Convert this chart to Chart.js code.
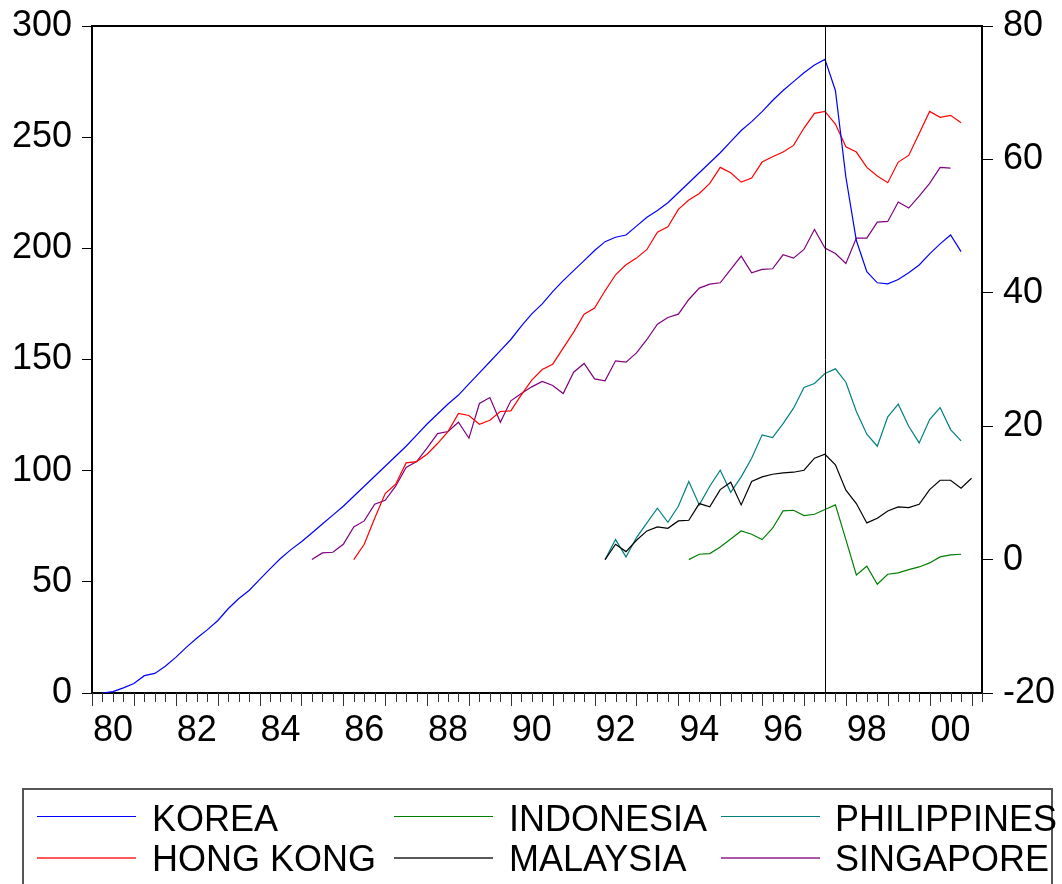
<!DOCTYPE html>
<html>
<head>
<meta charset="utf-8">
<script src="https://cdn.jsdelivr.net/npm/chart.js@4.4.1/dist/chart.umd.min.js"></script>
<style>
html,body{margin:0;padding:0;background:#fff;overflow:hidden}
#wrap{position:relative;width:1062px;height:884px;overflow:hidden}
#c{position:absolute;left:0;top:0}
#legendBox{position:absolute;left:22px;top:788px;width:1031px;height:120px;border:2px solid #555;box-sizing:border-box}
.lline{position:absolute}
.ltext{position:absolute;font-family:"Liberation Sans",Arial,sans-serif;font-size:36px;line-height:36px;color:#000;white-space:nowrap}
</style>
</head>
<body>
<div id="wrap">
<canvas id="c" width="1062" height="884"></canvas>
<div id="legendBox"></div>
</div>
<script>
// ---- categories (quarterly, 1980Q1 .. 2001Q2) ----
const firstYear = 1980;
const lastQuarter = '2001Q2';
const quarters = [];
for (let y = firstYear; ; y++) {
  let done = false;
  for (let q = 1; q <= 4; q++) {
    const lab = y + 'Q' + q;
    quarters.push(lab);
    if (lab === lastQuarter) { done = true; break; }
  }
  if (done) break;
}
const yearTickLabels = ['80','82','84','86','88','90','92','94','96','98','00'];
const eventQuarter = '1997Q3';

// ---- series ----
const koreaStart = '1980Q2';
const korea = [0, 0.6, 2.3, 4.3, 7.8, 8.8, 12.0, 16.0, 20.5, 24.6,
  28.4, 32.5, 37.9, 42.4, 46.1, 51.0, 55.8, 60.5, 64.5, 68.0,
  72, 76, 80, 84, 88.5, 93, 97.5, 102, 106.5, 111,
  116, 121, 125.5, 130, 134, 139, 144, 149, 154, 159,
  165, 170.5, 175, 180.5, 185.5, 190, 194.5, 199, 203, 205,
  206, 210, 214, 217, 220.5, 225, 229.5, 234, 238.5, 243,
  248, 253, 257, 261.5, 266.5, 271, 275, 279, 282.5, 285,
  271, 232, 203.5, 189.5, 184.5, 184, 186, 189, 192.5, 197.5,
  202, 206, 198.5];

const hongKongStart = '1986Q2';
const hongKong = [0, 2.3, 6.2, 9.9, 11.3, 14.5, 14.7, 15.8, 17.4, 19.2,
  21.9, 21.6, 20.3, 20.9, 22.2, 22.3, 24.7, 26.9, 28.5, 29.3,
  31.7, 34.1, 36.8, 37.7, 40.3, 42.7, 44.2, 45.2, 46.5, 49.1,
  49.9, 52.5, 53.9, 54.9, 56.4, 58.8, 58.0, 56.6, 57.2, 59.6,
  60.4, 61.1, 62.1, 64.7, 66.9, 67.2, 65.3, 61.9, 61.1, 58.8,
  57.5, 56.5, 59.6, 60.6, 63.9, 67.2, 66.3, 66.6, 65.5];

const indonesiaStart = '1994Q2';
const indonesia = [0, 0.8, 0.9, 1.9, 3.1, 4.3, 3.8, 3.0, 4.7, 7.3,
  7.4, 6.6, 6.8, 7.5, 8.2, 3.0, -2.3, -1.0, -3.7, -2.2,
  -2.0, -1.5, -1.1, -0.5, 0.4, 0.7, 0.8];

const malaysiaStart = '1992Q2';
const malaysia = [0, 2.3, 1.2, 2.9, 4.3, 4.9, 4.7, 5.8, 5.9, 8.4,
  7.9, 10.5, 11.6, 8.2, 11.7, 12.4, 12.8, 13.0, 13.1, 13.4,
  15.2, 15.8, 14.2, 10.4, 8.4, 5.5, 6.2, 7.3, 7.9, 7.8,
  8.3, 10.5, 11.9, 11.9, 10.7, 12.2];

const philippinesStart = '1992Q2';
const philippines = [0, 3.0, 0.4, 3.3, 5.5, 7.7, 5.6, 8.0, 11.7, 8.2,
  11.0, 13.4, 10.1, 12.4, 15.2, 18.7, 18.3, 20.4, 22.7, 25.8,
  26.4, 27.9, 28.6, 26.6, 22.2, 18.8, 17.0, 21.4, 23.3, 20.0,
  17.5, 21.0, 22.8, 19.5, 17.8];

const singaporeStart = '1985Q2';
const singapore = [0, 1.0, 1.1, 2.3, 4.9, 5.8, 8.3, 8.9, 11.0, 13.8,
  14.7, 16.7, 18.9, 19.2, 20.6, 18.2, 23.4, 24.3, 20.6, 23.8,
  24.9, 25.9, 26.7, 26.1, 24.9, 28.1, 29.4, 27.1, 26.8, 29.8,
  29.6, 31.0, 33.0, 35.3, 36.3, 36.8, 39.0, 40.7, 41.3, 41.5,
  43.5, 45.5, 43.0, 43.5, 43.6, 45.7, 45.2, 46.5, 49.5, 46.7,
  45.9, 44.4, 48.2, 48.2, 50.6, 50.7, 53.6, 52.7, 54.5, 56.4,
  58.8, 58.7];

// ---- build library data ----
function toPoints(start, values) {
  const s = quarters.indexOf(start);
  return values.map((v, k) => ({ x: quarters[s + k], y: v }));
}
const FONT = '"Liberation Sans", Arial, sans-serif';
const seriesDefs = [
  { label: 'KOREA',       start: koreaStart,       values: korea,       color: '#0000FF', axis: 'y'  },
  { label: 'HONG KONG',   start: hongKongStart,    values: hongKong,    color: '#FF0000', axis: 'y1' },
  { label: 'INDONESIA',   start: indonesiaStart,   values: indonesia,   color: '#008000', axis: 'y1' },
  { label: 'MALAYSIA',    start: malaysiaStart,    values: malaysia,    color: '#000000', axis: 'y1' },
  { label: 'PHILIPPINES', start: philippinesStart, values: philippines, color: '#008080', axis: 'y1' },
  { label: 'SINGAPORE',   start: singaporeStart,   values: singapore,   color: '#800080', axis: 'y1' }
];

const datasets = seriesDefs.map(s => ({
  label: s.label,
  data: toPoints(s.start, s.values),
  borderColor: s.color,
  backgroundColor: s.color,
  borderWidth: 1.2,
  pointRadius: 0,
  tension: 0,
  fill: false,
  yAxisID: s.axis
}));

const framePlugin = {
  id: 'frame',
  afterDraw(chart) {
    const { ctx, chartArea: a, scales: { x } } = chart;
    ctx.save();
    // top frame
    ctx.strokeStyle = '#000';
    ctx.lineWidth = 2;
    ctx.beginPath();
    ctx.moveTo(a.left - 1, a.top);
    ctx.lineTo(a.right + 1, a.top);
    ctx.stroke();
    // quarterly (minor) and yearly (major) ticks
    ctx.lineWidth = 1;
    ctx.strokeStyle = '#333';
    ctx.beginPath();
    quarters.forEach((q, i) => {
      const px = Math.round(x.getPixelForValue(i)) + 0.5;
      const len = (i % 4 === 0) ? 13 : 9;
      ctx.moveTo(px, a.bottom);
      ctx.lineTo(px, a.bottom + len);
    });
    ctx.stroke();
    // event line
    const ex = Math.round(x.getPixelForValue(quarters.indexOf(eventQuarter))) + 0.5;
    ctx.strokeStyle = '#000';
    ctx.lineWidth = 1;
    ctx.beginPath();
    ctx.moveTo(ex, a.top);
    ctx.lineTo(ex, a.bottom);
    ctx.stroke();
    ctx.restore();
  }
};

const tickFont = { family: FONT, size: 36 };

new Chart(document.getElementById('c'), {
  type: 'line',
  data: { labels: quarters, datasets },
  options: {
    responsive: false,
    animation: false,
    events: [],
    layout: { padding: { top: 26, left: 0, right: 0, bottom: 121 } },
    plugins: { legend: { display: false }, tooltip: { enabled: false } },
    scales: {
      x: {
        type: 'category',
        offset: false,
        grid: { display: false },
        border: { display: true, color: '#000', width: 2 },
        ticks: {
          autoSkip: false, maxRotation: 0, minRotation: 0, padding: 8,
          color: '#000', font: tickFont,
          callback: (v, i) => (i % 8 === 2) ? yearTickLabels[(i - 2) / 8] : ''
        },
        afterFit: s => { s.height = 70; s.paddingLeft = 0; s.paddingRight = 0; }
      },
      y: {
        position: 'left', min: 0, max: 300,
        ticks: { stepSize: 50, padding: 10, color: '#000', font: tickFont },
        grid: { drawOnChartArea: false, tickLength: 10, color: '#000' },
        border: { display: true, color: '#000', width: 2 },
        afterFit: s => { s.width = 92; s.paddingTop = 0; s.paddingBottom = 0; }
      },
      y1: {
        position: 'right', min: -20, max: 80,
        ticks: { stepSize: 20, padding: 10, color: '#000', font: tickFont },
        grid: { drawOnChartArea: false, tickLength: 11, color: '#000' },
        border: { display: true, color: '#000', width: 2 },
        afterFit: s => { s.width = 80; s.paddingTop = 0; s.paddingBottom = 0; }
      }
    }
  },
  plugins: [framePlugin]
});

// ---- legend (HTML text), laid out in 3 columns x 2 rows ----
const legendCols = [
  { lineX: 37, textX: 152 },
  { lineX: 394, textX: 509 },
  { lineX: 721, textX: 835 }
];
const legendRows = [
  { lineY: 816, lineH: 1, lineOpacity: 1, textTop: 801 },
  { lineY: 857, lineH: 2, lineOpacity: 0.65, textTop: 841 }
];
const wrap = document.getElementById('wrap');
seriesDefs.forEach((s, k) => {
  const col = legendCols[Math.floor(k / 2)];
  const row = legendRows[k % 2];
  const ln = document.createElement('div');
  ln.className = 'lline';
  ln.style.left = col.lineX + 'px';
  ln.style.width = '99px';
  ln.style.top = row.lineY + 'px';
  ln.style.height = row.lineH + 'px';
  ln.style.opacity = row.lineOpacity;
  ln.style.background = s.color;
  wrap.appendChild(ln);
  const tx = document.createElement('div');
  tx.className = 'ltext';
  tx.style.left = col.textX + 'px';
  tx.style.top = row.textTop + 'px';
  tx.textContent = s.label;
  wrap.appendChild(tx);
});
</script>
</body>
</html>
